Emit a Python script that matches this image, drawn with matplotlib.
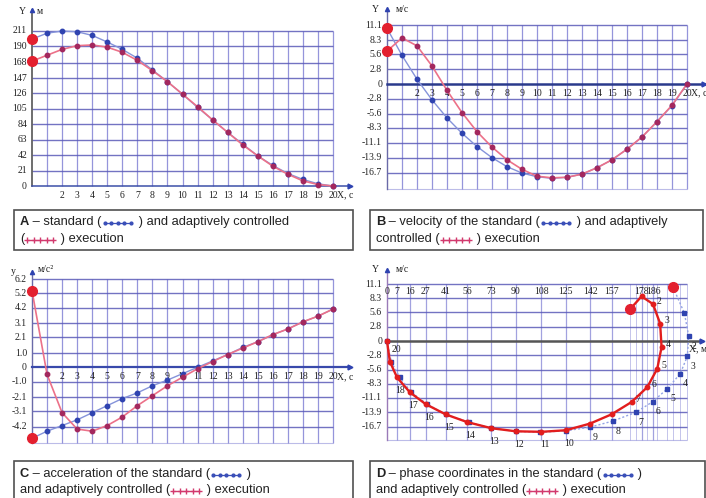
import numpy as np
import matplotlib
matplotlib.use("Agg")
import matplotlib.pyplot as plt
from matplotlib.lines import Line2D
from matplotlib.patches import Rectangle

W, H = 706, 498

# time steps, s
t = np.arange(21)

# A - position, m
pos_std = [200, 208, 211, 210, 205, 196, 186, 174, 158, 142, 125, 107, 90, 73, 57, 41, 28, 17, 9, 3, 0]
pos_adp = [170, 178, 186, 191, 192, 189, 182, 171, 157, 142, 125, 108, 90, 73, 56, 41, 27, 16, 7, 2, 0]

# B - velocity, m/s
vel_std = [10.5, 5.4, 0.9, -3.0, -6.4, -9.3, -11.8, -13.9, -15.6, -16.8, -17.5, -17.8, -17.6,
           -17.0, -15.8, -14.3, -12.3, -10.0, -7.1, -4.1, 0]
vel_adp = [6.2, 8.7, 7.2, 3.4, -1.2, -5.4, -9.0, -11.9, -14.3, -16.1, -17.4, -17.7, -17.6,
           -17.0, -15.8, -14.3, -12.3, -10.0, -7.1, -4.0, 0]

# C - acceleration, m/s^2
acc_std = [-5.0, -4.5, -4.1, -3.7, -3.2, -2.7, -2.2, -1.8, -1.3, -0.9, -0.45, 0.0, 0.45,
           0.9, 1.4, 1.8, 2.3, 2.7, 3.2, 3.6, 4.1]
acc_adp = [5.4, -0.5, -3.2, -4.35, -4.5, -4.1, -3.5, -2.7, -2.0, -1.3, -0.7, -0.1, 0.4,
           0.9, 1.35, 1.8, 2.3, 2.7, 3.2, 3.6, 4.1]

# tick labels
ticks_a = [0, 21, 42, 63, 84, 105, 126, 147, 168, 190, 211]
ticks_v = [11.1, 8.3, 5.6, 2.8, 0, -2.8, -5.6, -8.3, -11.1, -13.9, -16.7]
ticks_c = [6.2, 5.2, 4.2, 3.1, 2.1, 1.0, 0, -1.0, -2.1, -3.1, -4.2]
ticks_d = [0, 7, 16, 27, 41, 56, 73, 90, 108, 125, 142, 157, 178, 186]
extra_d = [170, 174, 182, 189, 196, 200, 205, 210]

GRID = '#7b7bd2'
GRID_H = '#5a5ab8'
BLUE_L = '#8593da'
BLUE_M = '#2f43b0'
RED_L = '#ec7189'
RED_M = '#a3285e'
BIG = '#e3202f'
TICKFONT = dict(family='Liberation Serif', fontsize=7, color='#222222')

fig = plt.figure(figsize=(W / 100, H / 100), dpi=100)


def panel(x0, sx, xlim, y0, sy, ylim):
    left = x0 + xlim[0] * sx
    width = (xlim[1] - xlim[0]) * sx
    bottom = y0 - ylim[0] * sy
    height = (ylim[1] - ylim[0]) * sy
    ax = fig.add_axes([left / W, 1 - bottom / H, width / W, height / H])
    ax.set_xlim(*xlim)
    ax.set_ylim(*ylim)
    ax.axis('off')
    return ax


def ftext(x, y, s, **kw):
    fig.text(x / W, 1 - y / H, s, **kw)


def lab(ax, s, xy, off, ha='center', va='center'):
    ax.annotate(s, xy, xytext=off, textcoords='offset pixels', ha=ha, va=va,
                annotation_clip=False, **TICKFONT)


def time_axis(ax, xend, axis_col, axis_lw, unit):
    ax.plot([0, xend], [0, 0], color=axis_col, lw=axis_lw, clip_on=False, zorder=3)
    ax.plot([xend], [0], marker='>', ms=3.5, color=BLUE_M, clip_on=False, zorder=3)
    for i in t[2:]:
        lab(ax, str(i), (i, 0), (0, -9))
    lab(ax, unit, (20, 0), (4, -9), ha='left')


def curves(ax, x, ys, ya, lw_r=1.2):
    ax.plot(x, ys, color=BLUE_L, lw=1.0, marker='o', ms=3.2, mfc=BLUE_M, mec=BLUE_M,
            clip_on=False, zorder=4)
    ax.plot(x, ya, color=RED_L, lw=lw_r, marker='o', ms=3.2, mfc=RED_M, mec=RED_M,
            clip_on=False, zorder=5)
    ax.plot([x[0], x[0]], [ys[0], ya[0]], 'o', ms=7, color=BIG, clip_on=False, zorder=6)


# ---------------- A: position ----------------
axA = panel(32, 15.05, (-0.5, 21.5), 186, 0.7346, (-6, 244))
axA.vlines(t[1:], 0, 211, color=GRID, lw=0.9, alpha=0.8)
axA.hlines(ticks_a[1:], 0, 20, color=GRID_H, lw=1.0, alpha=0.85)
axA.plot([0, 0], [0, 240], color='#555555', lw=1.2, clip_on=False)
axA.plot([0], [240], marker='^', ms=3, color=BLUE_M, clip_on=False)
time_axis(axA, 21.1, '#3c4fa8', 1.1, 'X, c')
for v in ticks_a:
    lab(axA, str(v), (0, v), (-5, 0), ha='right')
curves(axA, t, pos_std, pos_adp)
ftext(22, 12, 'Y', ha='center', va='center', **TICKFONT)
ftext(40, 12, 'м', ha='center', va='center', **TICKFONT)

# ---------------- B: velocity ----------------
axB = panel(387, 15.0, (-0.5, 21.3), 84, 5.3, (-20.5, 14.7))
axB.vlines(t[1:], -19.8, 11.1, color=GRID, lw=0.9, alpha=0.8)
axB.hlines([v for v in ticks_v if v != 0], 0, 20, color=GRID_H, lw=1.0, alpha=0.85)
axB.hlines([-19.8], 0, 20, color=GRID, lw=0.8, alpha=0.5)
axB.plot([0, 0], [-19.8, 14.2], color='#6a6aa8', lw=1.0, clip_on=False)
axB.plot([0], [14.2], marker='^', ms=3, color=BLUE_M, clip_on=False)
time_axis(axB, 21.1, '#2a3a8c', 1.8, 'X, c')
for v in ticks_v:
    lab(axB, str(v) if v != 0 else '0', (0, v), (-5, 0), ha='right')
curves(axB, t, vel_std, vel_adp)
ftext(375, 10, 'Y', ha='center', va='center', **TICKFONT)
ftext(402, 10, 'м/с', ha='center', va='center', **TICKFONT)

# ---------------- C: acceleration ----------------
axC = panel(32, 15.05, (-0.5, 21.5), 367.3, 14.2, (-5.6, 6.85))
axC.vlines(t[1:], -5.33, 6.2, color=GRID, lw=0.9, alpha=0.8)
axC.hlines([v for v in ticks_c if v != 0], 0, 20, color=GRID_H, lw=1.0, alpha=0.85)
axC.hlines([-5.33], 0, 20, color=GRID, lw=0.8, alpha=0.5)
axC.plot([0, 0], [-5.33, 6.7], color='#6a6aa8', lw=1.0, clip_on=False)
axC.plot([0], [6.7], marker='^', ms=3, color=BLUE_M, clip_on=False)
time_axis(axC, 21.1, '#3949ab', 1.6, 'X, c')
for v in ticks_c:
    lab(axC, str(v) if v != 0 else '0', (0, v), (-5, 0), ha='right')
curves(axC, t, acc_std, acc_adp)
ftext(13, 271, 'y', ha='center', va='center', **TICKFONT)
ftext(46, 270, 'м/с²', ha='center', va='center', **TICKFONT)

# ---------------- D: phase coordinates ----------------
axD = panel(387, 1.43, (-3, 222), 341, 5.13, (-19.6, 14.2))
axD.vlines(ticks_d[1:], -19.3, 11.1, color=GRID, lw=0.9, alpha=0.7)
axD.vlines(extra_d, -19.3, 11.1, color=GRID, lw=0.7, alpha=0.45)
axD.hlines([v for v in ticks_v if v != 0], 0, 210, color=GRID_H, lw=1.0, alpha=0.85)
axD.hlines([-19.3], 0, 210, color=GRID, lw=0.8, alpha=0.5)
axD.plot([0, 0], [-19.3, 13.8], color='#9a7ab8', lw=1.0, clip_on=False)
axD.plot([0], [13.8], marker='^', ms=3, color=BLUE_M, clip_on=False)
axD.plot([0, 220], [0, 0], color='#555555', lw=1.8, clip_on=False, zorder=3)
axD.plot([220], [0], marker='>', ms=3.5, color=BLUE_M, clip_on=False, zorder=3)
for v in ticks_d:
    axD.text(v, 9.6, str(v), ha='center', va='center', **TICKFONT)
for v in ticks_v:
    lab(axD, str(v) if v != 0 else '0', (0, v), (-5, 0), ha='right')
lab(axD, 'X, м', (211, 0), (0, -8), ha='left')
axD.plot(pos_std, vel_std, color='#93a3e6', lw=1.0, ls=(0, (1.5, 1.5)), marker='s', ms=3,
         mfc=BLUE_M, mec=BLUE_M, clip_on=False, zorder=4)
axD.plot(pos_adp, vel_adp, color='#e21d1d', lw=1.7, marker='o', ms=3.2, mfc='#e21d1d',
         mec='#e21d1d', clip_on=False, zorder=5)
axD.plot([pos_std[0], pos_adp[0]], [vel_std[0], vel_adp[0]], 'o', ms=7, color=BIG,
         clip_on=False, zorder=6)
for i in range(2, 8):
    lab(axD, str(i), (pos_adp[i], vel_adp[i]), (4, 3), ha='left')
for i in range(2, 10):
    lab(axD, str(i), (pos_std[i], vel_std[i]), (3, -10), ha='left')
for i in range(10, 19):
    lab(axD, str(i), (pos_adp[i], vel_adp[i]), (3, -13))
lab(axD, '20', (0, 0), (9, -8))
ftext(375, 270, 'Y', ha='center', va='center', **TICKFONT)
ftext(402, 270, 'м/с', ha='center', va='center', **TICKFONT)

# ---------------- captions ----------------
CAPFONT = dict(family=['Liberation Sans Narrow', 'Liberation Sans'], fontsize=9.3, color='#222222')
renderer = fig.canvas.get_renderer()


def symbol(x, y, kind):
    xs = np.linspace(x, x + 26, 5)
    if kind == 'std':
        ln = Line2D(xs / W, [1 - y / H] * 5, color='#3a4fb8', lw=0.9, marker='o', ms=2,
                    transform=fig.transFigure)
    else:
        ln = Line2D(xs / W, [1 - y / H] * 5, color='#d23a6e', lw=0.9, marker='+', ms=4,
                    mew=1.0, transform=fig.transFigure)
    fig.add_artist(ln)
    return x + 30


def caption(x, y, parts):
    for p in parts:
        if p in ('std', 'adp'):
            x = symbol(x + 3, y + 1, p)
            continue
        weight = 'normal'
        if p in ('A', 'B', 'C', 'D'):
            weight = 'bold'
        txt = fig.text(x / W, 1 - y / H, p, ha='left', va='center', fontweight=weight, **CAPFONT)
        x += txt.get_window_extent(renderer).width


for (bx, by, bw) in [(14, 210, 339), (370, 210, 333), (14, 461, 339), (370, 461, 335)]:
    fig.add_artist(Rectangle((bx / W, 1 - (by + 40) / H), bw / W, 40 / H, fill=False,
                             ec='#505050', lw=1.2, transform=fig.transFigure))

caption(20, 222, ['A', ' – standard (', 'std', ' ) and adaptively controlled'])
caption(20, 239, ['(', 'adp', ' ) execution'])
caption(376, 222, ['B', ' – velocity of the standard (', 'std', ' ) and adaptively'])
caption(376, 239, ['controlled (', 'adp', ' ) execution'])
caption(20, 474, ['C', ' – acceleration of the standard (', 'std', ' )'])
caption(20, 490, ['and adaptively controlled (', 'adp', ' ) execution'])
caption(376, 474, ['D', ' – phase coordinates in the standard (', 'std', ' )'])
caption(376, 490, ['and adaptively controlled (', 'adp', ' ) execution'])

fig.savefig('out.png', dpi=100)
